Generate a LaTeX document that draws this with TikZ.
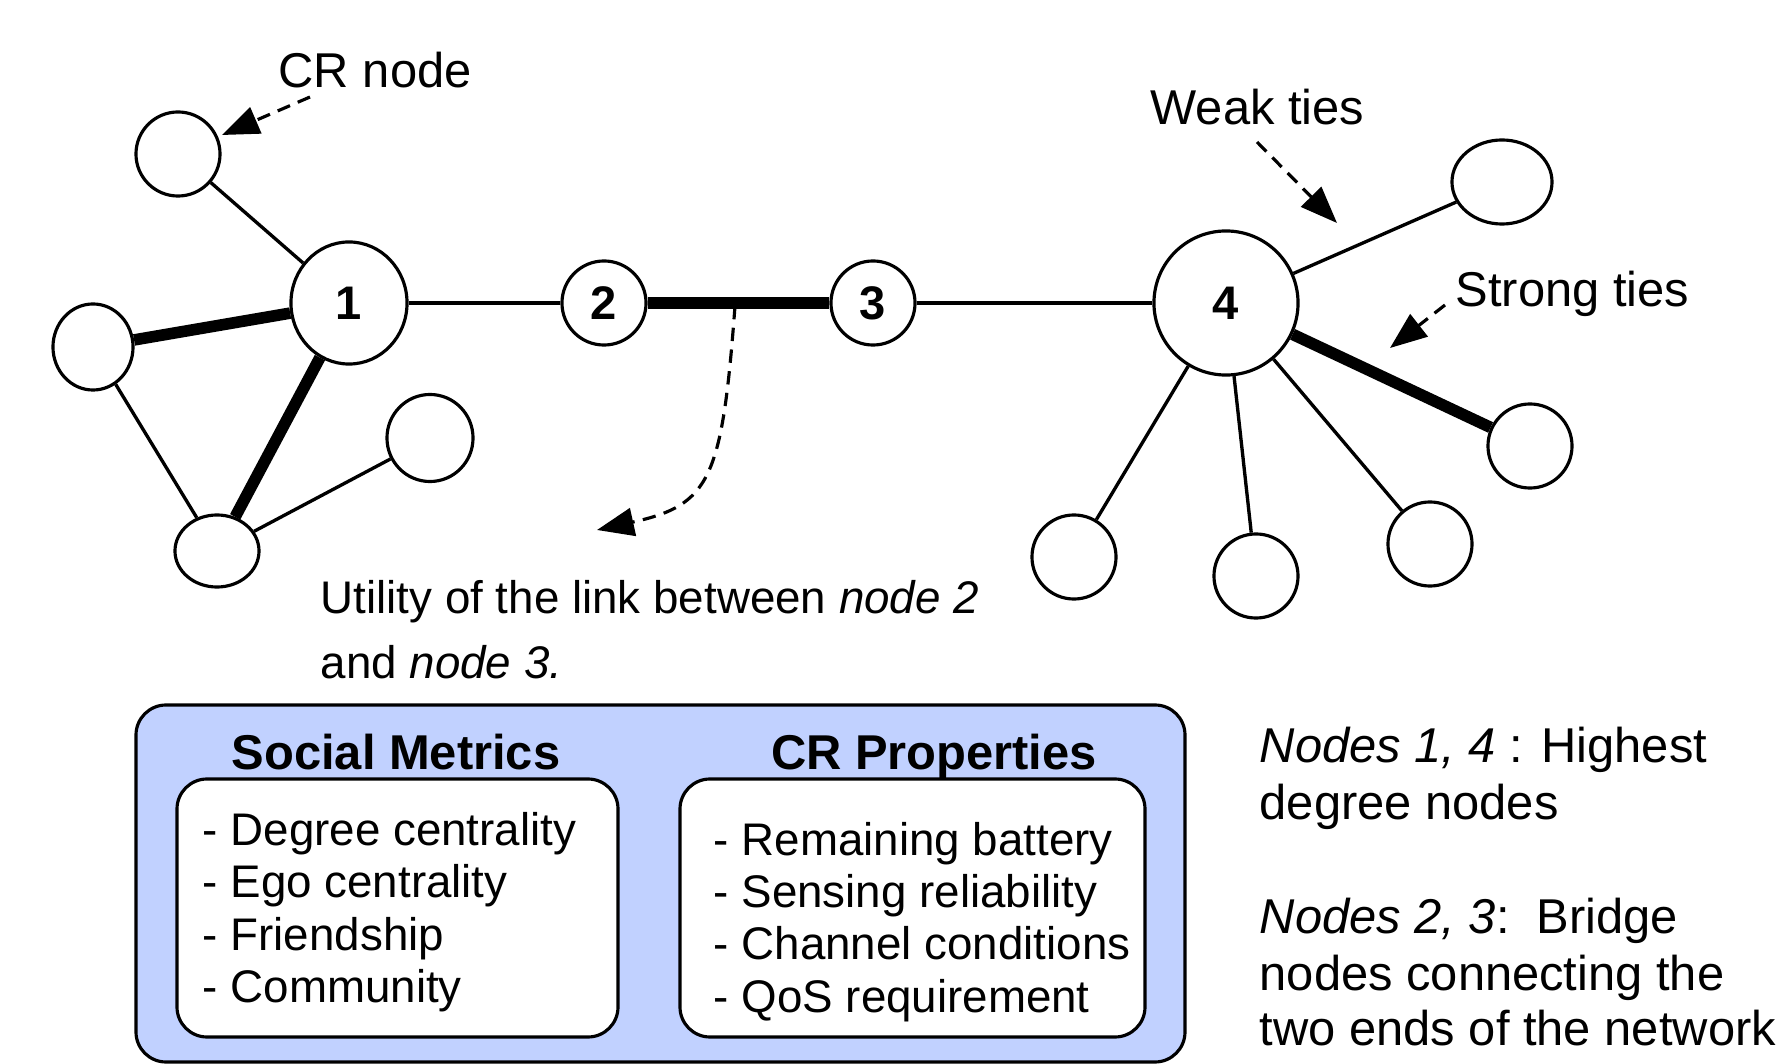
\documentclass[tikz,border=0pt]{standalone}
\usepackage{fontspec}
\setmainfont{Liberation Sans}
\usetikzlibrary{shapes.geometric,arrows.meta}

\definecolor{panelblue}{RGB}{193,209,255}

\tikzset{
  peer/.style={draw, ellipse, line width=0.9pt, fill=white, inner sep=0pt,
    minimum width=0.84cm, minimum height=0.84cm},
  hub/.style={peer, font=\fontsize{13.4}{16}\selectfont\bfseries},
  tie/.style={line width=0.95pt},
  strongtie/.style={line width=3.3pt},
  hint/.style={line width=0.9pt, dash pattern=on 3.8pt off 2.4pt,
    -{Triangle[length=10.5pt,width=8pt]}},
  panel/.style={draw, line width=0.9pt, rounded corners=0.3cm},
  tag/.style={anchor=base west, font=\fontsize{13.9}{16}\selectfont},
  listline/.style={anchor=base west, font=\fontsize{13}{16}\selectfont},
  heading/.style={anchor=base, font=\fontsize{13.9}{16}\selectfont\bfseries},
}

\begin{document}
\begin{tikzpicture}[x=0.01cm, y=-0.01cm, every node/.style={inner sep=0pt}]
    \useasboundingbox (0,0) rectangle (1787,1064);

    % left cluster
    \node[peer] (cr) at (178,154) {};
    \node[hub, minimum width=1.16cm, minimum height=1.22cm] (n1) at (349,303) {1};
    \node[peer, minimum width=0.80cm, minimum height=0.86cm] (l1) at (93,347) {};
    \node[peer, minimum height=0.72cm] (l2) at (217,551) {};
    \node[peer, minimum width=0.86cm, minimum height=0.87cm] (l3) at (430,438) {};

    % bridge nodes
    \node[hub] (n2) at (604,303) {2};
    \node[hub] (n3) at (873,303) {3};
    \node[hub, minimum size=1.44cm] (n4) at (1226,303) {4};

    % right cluster
    \node[peer, minimum width=1.0cm] (r1) at (1502,182) {};
    \node[peer] (r2) at (1530,446) {};
    \node[peer] (r3) at (1430,544) {};
    \node[peer] (r4) at (1256,576) {};
    \node[peer] (r5) at (1074,557) {};

    \draw[tie] (cr) -- (n1);
    \draw[strongtie] (l1) -- (n1);
    \draw[tie] (l1) -- (l2);
    \draw[strongtie] (n1) -- (l2);
    \draw[tie] (l3) -- (l2);
    \draw[tie] (n1) -- (n2);
    \draw[strongtie] (n2) -- (n3);
    \draw[tie] (n3) -- (n4);
    \draw[tie] (n4) -- (r1);
    \draw[strongtie] (n4) -- (r2);
    \foreach \leaf in {r3,r4,r5}
      \draw[tie] (n4) -- (\leaf);

    % labels and pointers
    \node[tag] (crlbl) at (278,88) {CR node};
    \node[tag] (weaklbl) at (1150,125) {Weak ties};
    \node[tag] (stronglbl) at (1455,307) {Strong ties};

    \coordinate (crtail) at (310,97);
    \coordinate (crhead) at (222,135);
    \coordinate (weaktail) at (1257,142);
    \coordinate (weakhead) at (1337,223);
    \coordinate (strongtail) at (1445,305);
    \coordinate (stronghead) at (1390,348);
    \coordinate (linkmid) at (735,306);
    \coordinate (usehead) at (597,530);

    \draw[hint] (crtail) -- (crhead);
    \draw[hint] (weaktail) -- (weakhead);
    \draw[hint] (strongtail) -- (stronghead);
    \draw[hint] (linkmid) .. controls (722,480) and (710,505) .. (usehead);

    \node[listline] (use1) at (320,614) {Utility of the link between \textit{node 2}};
    \node[listline] (use2) at (320,679) {and \textit{node 3.}};

    % metrics panel
    \draw[panel, fill=panelblue] (136,705) rectangle (1185,1062);
    \draw[panel, fill=white] (177,779) rectangle (618,1037);
    \draw[panel, fill=white] (680,779) rectangle (1145,1037);

    \node[heading] (socialhd) at (396,769) {Social Metrics};
    \node[heading] (crhd) at (934,769) {CR Properties};

    \foreach \metric [count=\i] in {Degree centrality, Ego centrality, Friendship, Community}
      \node[listline] (social\i) at (202,{792.4+52.6*\i}) {- \metric};
    \foreach \prop [count=\i] in {Remaining battery, Sensing reliability, Channel conditions, QoS requirement}
      \node[listline] (crprop\i) at (713,{802.6+52.4*\i}) {- \prop};

    % notes on the right
    \node[tag] (note1) at (1259,763) {\textit{Nodes 1, 4} : Highest};
    \node[tag] (note2) at (1259,820) {degree nodes};
    \node[tag] (note3) at (1259,933) {\textit{Nodes 2, 3}:\ \ Bridge};
    \node[tag] (note4) at (1259,990) {nodes connecting the};
    \node[tag] (note5) at (1259,1045) {two ends of the network};
\end{tikzpicture}
\end{document}
